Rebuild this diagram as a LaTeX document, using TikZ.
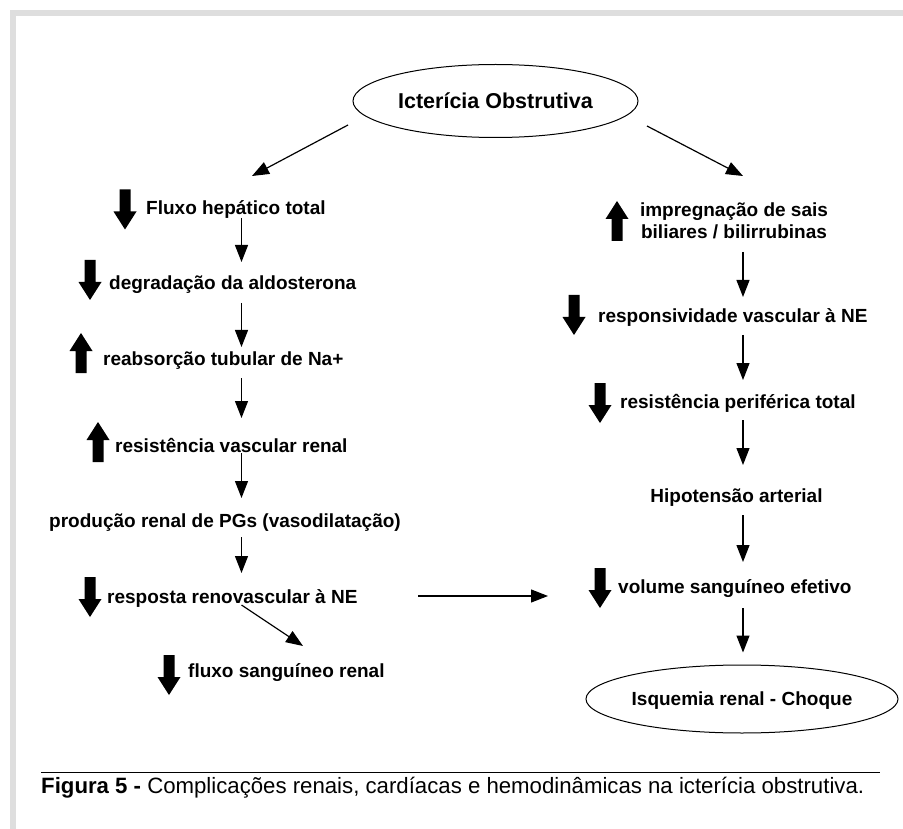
\documentclass[tikz,border=0pt]{standalone}
\usepackage{fontspec}
\setmainfont{Liberation Sans}
\usetikzlibrary{arrows.meta,calc,shapes.geometric}
\begin{document}
\begin{tikzpicture}[x=1pt,y=-1pt,
  lbl/.style={font=\fontsize{19}{22}\selectfont\bfseries, inner sep=0pt, anchor=base west},
  clbl/.style={lbl, anchor=base},
  conn/.style={line width=1.2pt, -{Triangle[length=17pt,width=13pt]}},
  oval/.style={draw, ellipse, line width=1pt, inner sep=0pt},
  frameband/.style={fill=black!13},
  downarr/.pic={\fill (-5.5,-20) -- (5.5,-20) -- (5.5,2) -- (11.5,2) -- (0,20) -- (-11.5,2) -- (-5.5,2) -- cycle;},
  uparr/.pic={\fill (-5.5,20) -- (5.5,20) -- (5.5,-2) -- (11.5,-2) -- (0,-20) -- (-11.5,-2) -- (-5.5,-2) -- cycle;}
]
\useasboundingbox (0,0) rectangle (903,829);
\fill[white] (0,0) rectangle (903,829);
% frame bands
\fill[frameband] (10,10) rectangle (903,16);
\fill[frameband] (10,10) rectangle (16,829);

\coordinate (cL) at (241.5,0);
\coordinate (cR) at (743,0);

% title ellipse
\node[oval, minimum width=285pt, minimum height=73pt,
      font=\fontsize{21.5}{24}\selectfont\bfseries, text height=15.5pt, text depth=0pt]
      (ict) at (495.5,101) {Icterícia Obstrutiva};

% left column
\node[lbl] (fluxo) at (146,215) {Fluxo hepático total};
\node[lbl] (degr) at (109,290) {degradação da aldosterona};
\node[lbl] (reab) at (103,366) {reabsorção tubular de Na+};
\node[lbl] (resv) at (115,452) {resistência vascular renal};
\node[lbl] (prod) at (49,527) {produção renal de PGs (vasodilatação)};
\node[lbl] (resp) at (107,603) {resposta renovascular à NE};
\node[lbl] (fsr) at (188,677) {fluxo sanguíneo renal};

% right column
\node[clbl] (impr1) at (734,217) {impregnação de sais};
\node[clbl] (impr2) at (734,239) {biliares / bilirrubinas};
\node[lbl] (resvn) at (598,323) {responsividade vascular à NE};
\node[lbl] (rpt) at (620,408) {resistência periférica total};
\node[clbl] (hipo) at (736.5,502) {Hipotensão arterial};
\node[lbl] (vol) at (618,593) {volume sanguíneo efetivo};
\node[oval, minimum width=292pt, minimum height=68pt,
      font=\fontsize{19}{22}\selectfont\bfseries, text height=13.7pt, text depth=0pt]
      (isq) at (742,699) {Isquemia renal - Choque};

% big up/down arrows
\pic at (125,209.5) {downarr};
\pic at (90,280) {downarr};
\pic at (81,353) {uparr};
\pic at (98,442) {uparr};
\pic at (90,597) {downarr};
\pic at (169,675) {downarr};
\pic at (617,221) {uparr};
\pic at (574,315) {downarr};
\pic at (600,403) {downarr};
\pic at (600,588) {downarr};

% connectors
\draw[conn] ($(ict.center)+(-147.5,24)$) -- ($(fluxo.base west)+(106,-39)$);
\draw[conn] ($(ict.center)+(151.5,25)$) -- ($(impr1.base -| cR)+(0,-41)$);

\draw[conn] ($(fluxo.base -| cL)+(0,3)$) -- ($(degr.base -| cL)+(0,-28)$);
\draw[conn] ($(degr.base -| cL)+(0,13)$) -- ($(reab.base -| cL)+(0,-19)$);
\draw[conn] ($(reab.base -| cL)+(0,12)$) -- ($(resv.base -| cL)+(0,-34)$);
\draw[conn] ($(resv.base -| cL)+(0,1)$) -- ($(prod.base -| cL)+(0,-29)$);
\draw[conn] ($(prod.base -| cL)+(0,10)$) -- ($(resp.base -| cL)+(0,-30)$);
\draw[conn] ($(resp.base -| cL)+(0,2)$) -- ($(fsr.base west)+(115,-31)$);
\draw[conn] ($(resp.base west)+(311,-7)$) -- ($(vol.base west)+(-70,3)$);

\draw[conn] ($(impr2.base -| cR)+(0,13)$) -- ($(resvn.base -| cR)+(0,-26)$);
\draw[conn] ($(resvn.base -| cR)+(0,12)$) -- ($(rpt.base -| cR)+(0,-28)$);
\draw[conn] ($(rpt.base -| cR)+(0,12)$) -- ($(hipo.base -| cR)+(0,-37)$);
\draw[conn] ($(hipo.base -| cR)+(0,13)$) -- ($(vol.base -| cR)+(0,-31)$);
\draw[conn] ($(vol.base -| cR)+(0,15)$) -- ($(isq.north -| cR)+(0,-12)$);

% caption
\draw[line width=1pt] (41,772) -- (880,772);
\node[anchor=base west, inner sep=0pt, font=\fontsize{22.2}{25}\selectfont]
  (cap) at (41,793) {\textbf{Figura 5 -} Complicações renais, cardíacas e hemodinâmicas na icterícia obstrutiva.};
\end{tikzpicture}
\end{document}
